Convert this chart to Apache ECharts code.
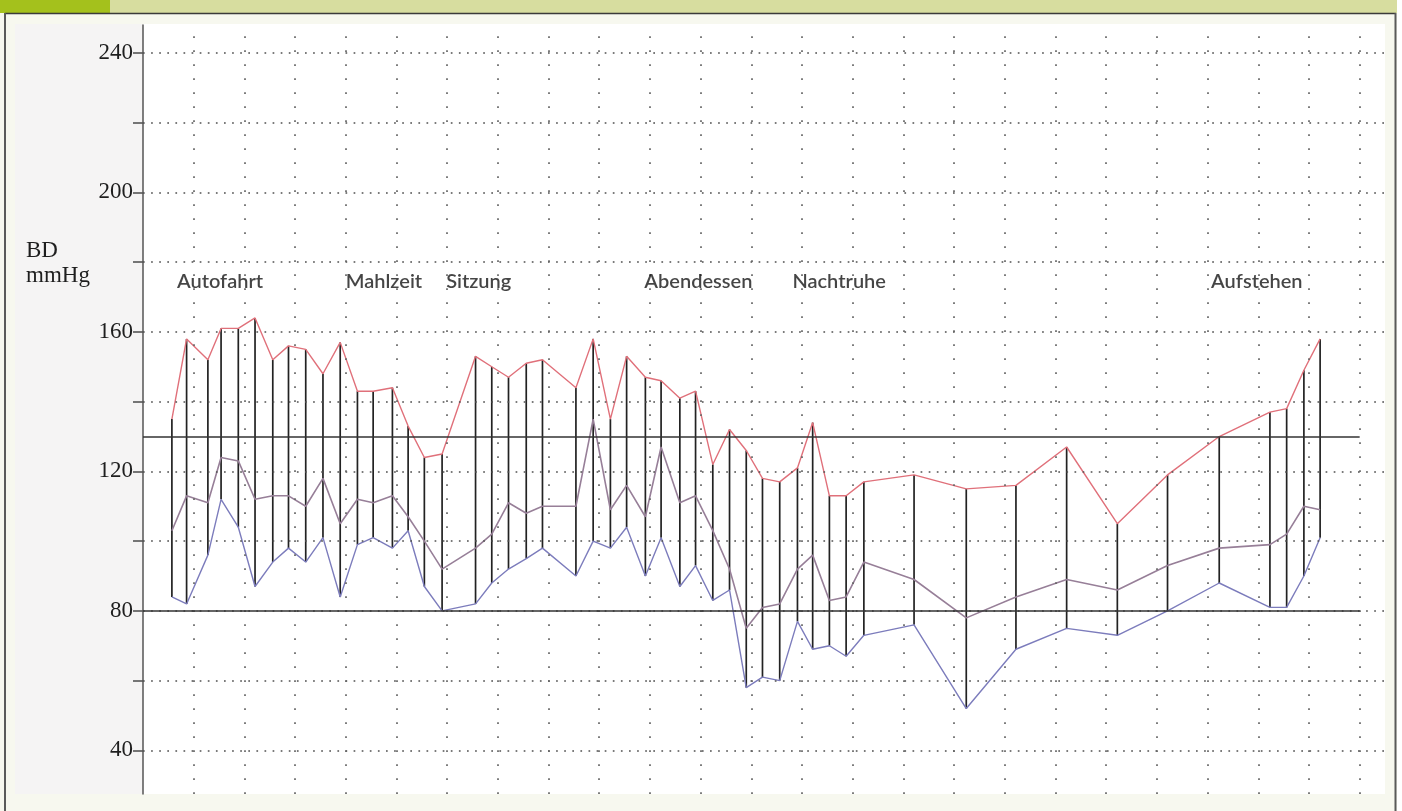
<!DOCTYPE html>
<html>
<head>
<meta charset="utf-8">
<title>Langzeit-Blutdruckmessung</title>
<script src="https://cdn.jsdelivr.net/npm/echarts@6/dist/echarts.min.js"></script>
<style>
  html, body { margin: 0; padding: 0; background: #f7f8ef; }
  #chart { width: 1402px; height: 811px; }
</style>
</head>
<body>
<div id="chart"></div>
<script>
// Measurement times (hours from start of recording)
const times = [0.57, 0.86, 1.28, 1.54, 1.88, 2.21, 2.56, 2.87, 3.21, 3.55, 3.89, 4.23, 4.54, 4.92, 5.23, 5.55, 5.90,
  6.56, 6.88, 7.21, 7.56, 7.88, 8.54, 8.88, 9.22, 9.54, 9.91, 10.22, 10.59, 10.90, 11.24, 11.57, 11.90,
  12.22, 12.56, 12.91, 13.21, 13.54, 13.87, 14.22, 15.21, 16.24, 17.22, 18.22, 19.22, 20.21, 21.23, 22.23, 22.56, 22.90, 23.22];

// Systolic, mean and diastolic pressure (mmHg)
const systolic = [135, 158, 152, 161, 161, 164, 152, 156, 155, 148, 157, 143, 143, 144, 133, 124, 125,
  153, 150, 147, 151, 152, 144, 158, 135, 153, 147, 146, 141, 143, 122, 132, 126,
  118, 117, 121, 134, 113, 113, 117, 119, 115, 116, 127, 105, 119, 130, 137, 138, 149, 158];
const meanPressure = [103, 113, 111, 124, 123, 112, 113, 113, 110, 118, 105, 112, 111, 113, 107, 100, 92,
  98, 102, 111, 108, 110, 110, 135, 109, 116, 107, 127, 111, 113, 103, 92, 75,
  81, 82, 92, 96, 83, 84, 94, 89, 78, 84, 89, 86, 93, 98, 99, 102, 110, 109];
const diastolic = [84, 82, 96, 112, 104, 87, 94, 98, 94, 101, 84, 99, 101, 98, 103, 87, 80,
  82, 88, 92, 95, 98, 90, 100, 98, 104, 90, 101, 87, 93, 83, 86, 58,
  61, 60, 77, 69, 70, 67, 73, 76, 52, 69, 75, 73, 80, 88, 81, 81, 90, 101];

// Activities noted in the diary
const eventNames = ['Autofahrt', 'Mahlzeit', 'Sitzung', 'Abendessen', 'Nachtruhe', 'Aufstehen'];
const eventTimes = [0.67, 4.0, 5.98, 9.89, 12.81, 21.07];

// Axis ticks and grid
const yLabelValues = [40, 80, 120, 160, 200, 240];
const yTickValues = [40, 60, 80, 100, 120, 140, 160, 180, 200, 220, 240];
const hourLines = [1, 2, 3, 4, 5, 6, 7, 8, 9, 10, 11, 12, 13, 14, 15, 16, 17, 18, 19, 20, 21, 22, 23, 24];
const limitValues = [130, 80];
const limitEnd = 24;

const chart = echarts.init(document.getElementById('chart'), null, { renderer: 'canvas' });

const eventLabelLevel = 174.3;

const option = {
  animation: false,
  backgroundColor: '#f7f8ef',
  graphic: [
    { type: 'rect', z: -20, shape: { x: 0, y: 0, width: 1402, height: 13 }, style: { fill: '#d7dd9f' } },
    { type: 'rect', z: -19, shape: { x: 0, y: 0, width: 110, height: 13 }, style: { fill: '#a4c11c' } },
    { type: 'line', z: -18, shape: { x1: 5, y1: 13.5, x2: 1396, y2: 13.5 }, style: { stroke: '#3a3a3a', lineWidth: 1.5 } },
    { type: 'line', z: -18, shape: { x1: 5, y1: 13, x2: 5, y2: 811 }, style: { stroke: '#5a5a5a', lineWidth: 2 } },
    { type: 'line', z: -18, shape: { x1: 1395.5, y1: 13, x2: 1395.5, y2: 811 }, style: { stroke: '#5a5a5a', lineWidth: 2 } },
    { type: 'rect', z: -17, shape: { x: 1397, y: 0, width: 5, height: 811 }, style: { fill: '#ffffff' } },
    { type: 'rect', z: -16, shape: { x: 15, y: 24, width: 1370, height: 770 }, style: { fill: '#ffffff' } },
    { type: 'rect', z: -15, shape: { x: 15, y: 24, width: 128, height: 770 }, style: { fill: '#f5f4f4' } },
    {
      type: 'text', z: 10, left: 26, top: 238,
      style: { text: 'BD\nmmHg', font: '23px "Liberation Serif", "DejaVu Serif", serif', fill: '#1e1e1e', lineHeight: 25 }
    }
  ],
  grid: { left: 143, right: 17, top: 25, bottom: 17 },
  xAxis: {
    type: 'value', min: 0, max: 24.5,
    axisLine: { show: false }, axisTick: { show: false }, axisLabel: { show: false }, splitLine: { show: false }
  },
  yAxis: {
    type: 'value', min: 27.5, max: 248,
    axisLine: { show: true, lineStyle: { color: '#555', width: 1.5 } },
    axisTick: { show: true, customValues: yTickValues, length: 10, lineStyle: { color: '#555', width: 1.6 } },
    axisLabel: {
      show: true, customValues: yLabelValues, margin: 10,
      fontFamily: '"Liberation Serif", "DejaVu Serif", serif', fontSize: 23, color: '#1e1e1e'
    },
    splitLine: { show: false }
  },
  series: [
    {
      name: 'Raster', type: 'line', data: [], silent: true, z: 1,
      markLine: {
        silent: true, symbol: 'none', label: { show: false },
        data: yTickValues.map(v => ({ yAxis: v, lineStyle: { color: '#505050', width: 1.7, type: [1.7, 6.4] } }))
          .concat(hourLines.map(h => ({ xAxis: h, lineStyle: { color: '#666', width: 1.7, type: [1.7, 12.3] } })))
      }
    },
    {
      name: 'Grenzwerte', type: 'line', data: [], silent: true, z: 2,
      markLine: {
        silent: true, symbol: 'none', label: { show: false },
        lineStyle: { color: '#333', width: 1.5, type: 'solid' },
        data: limitValues.map(v => [{ coord: [0, v] }, { coord: [limitEnd, v] }])
      }
    },
    {
      name: 'Messung', type: 'custom', z: 3,
      data: times.map((t, i) => [t, systolic[i], diastolic[i]]),
      renderItem: function (params, api) {
        const top = api.coord([api.value(0), api.value(1)]);
        const bottom = api.coord([api.value(0), api.value(2)]);
        return {
          type: 'line',
          shape: { x1: top[0], y1: top[1], x2: bottom[0], y2: bottom[1] },
          style: { stroke: '#222', lineWidth: 1.7 }
        };
      }
    },
    {
      name: 'Systolisch', type: 'line', z: 4, symbol: 'none',
      data: times.map((t, i) => [t, systolic[i]]),
      lineStyle: { color: '#e0707a', width: 1.4 }
    },
    {
      name: 'Mitteldruck', type: 'line', z: 4, symbol: 'none',
      data: times.map((t, i) => [t, meanPressure[i]]),
      lineStyle: { color: '#977f98', width: 1.6 }
    },
    {
      name: 'Diastolisch', type: 'line', z: 4, symbol: 'none',
      data: times.map((t, i) => [t, diastolic[i]]),
      lineStyle: { color: '#7c7cbc', width: 1.4 }
    },
    {
      name: 'Ereignisse', type: 'scatter', z: 5, symbolSize: 0, silent: true,
      data: eventTimes.map((t, i) => ({ value: [t, eventLabelLevel], name: eventNames[i] })),
      label: {
        show: true, position: 'right', distance: 0,
        formatter: p => p.name,
        fontFamily: 'Lato, "Open Sans", sans-serif', fontSize: 20, fontWeight: 600, color: '#161616'
      }
    }
  ]
};

chart.setOption(option);
</script>
</body>
</html>
